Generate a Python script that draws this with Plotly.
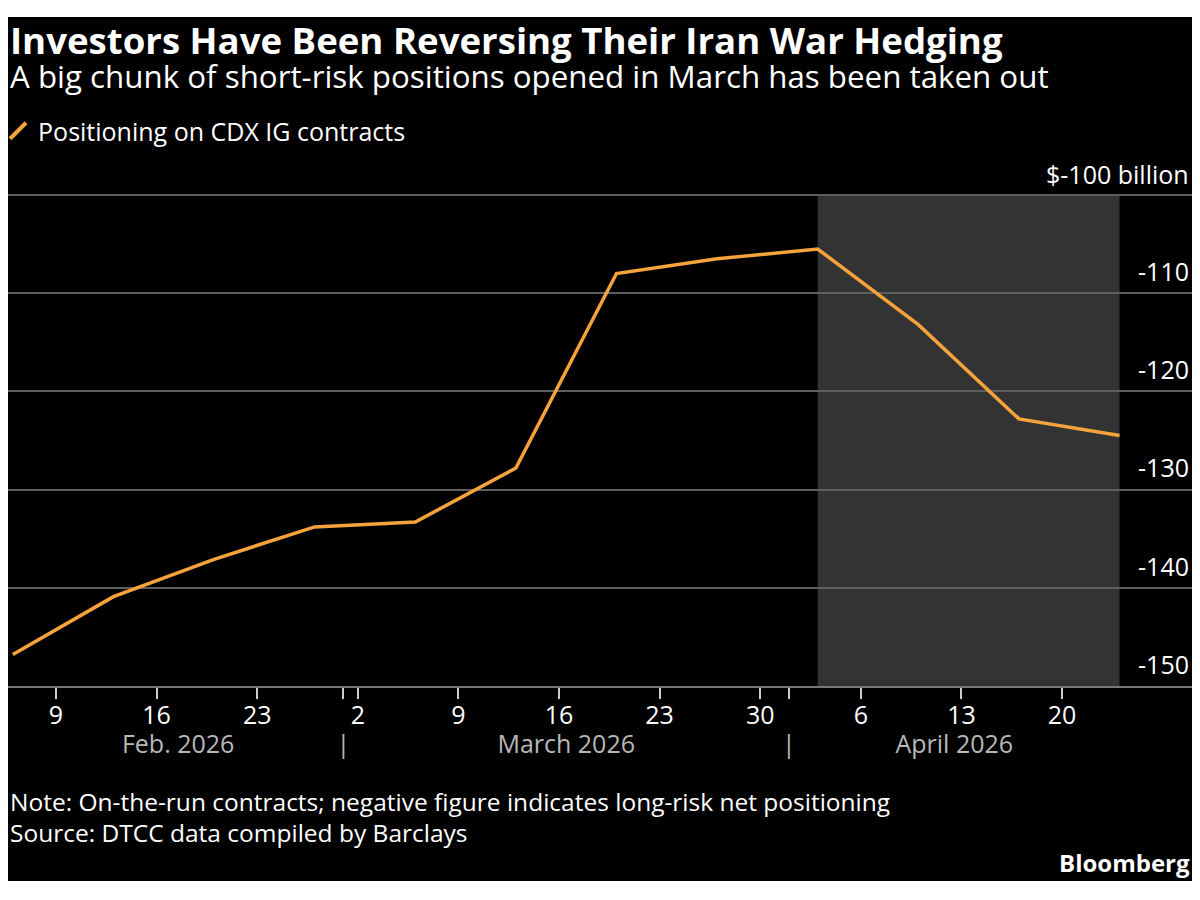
import plotly.graph_objects as go

# weekly positioning on CDX IG contracts, $ billion
dates = ["2026-02-06", "2026-02-13", "2026-02-20", "2026-02-27", "2026-03-06", "2026-03-13",
         "2026-03-20", "2026-03-27", "2026-04-03", "2026-04-10", "2026-04-17", "2026-04-24"]
positioning = [-146.8, -140.9, -137.1, -133.8, -133.3, -127.8,
               -108.0, -106.5, -105.5, -113.2, -122.8, -124.5]

# shaded window (April unwind)
shade_start = "2026-04-03"
shade_end = "2026-04-24"

day_ticks = ["2026-02-09", "2026-02-16", "2026-02-23", "2026-03-02", "2026-03-09", "2026-03-16",
             "2026-03-23", "2026-03-30", "2026-04-06", "2026-04-13", "2026-04-20"]
day_labels = ["9", "16", "23", "2", "9", "16", "23", "30", "6", "13", "20"]
month_bounds = ["2026-03-01", "2026-04-01"]
month_ticks = ["2026-02-17 12:00", "2026-03-01", "2026-03-16 12:00", "2026-04-01", "2026-04-12 12:00"]
month_labels = ["Feb. 2026", "|", "March 2026", "|", "April 2026"]

y_ticks = [-150, -140, -130, -120, -110, -100]
y_labels = ["-150", "-140", "-130", "-120", "-110", ""]
y_top_label = "$-100 billion"

x_range = ["2026-02-05 15:53", "2026-04-29 01:00"]

ORANGE = "#f7a33c"
FONT = "Open Sans"

# figure geometry in pixels (the page adds an 8px body margin around it)
W, H = 1184, 884
ML, MR, MT, MB = 0, 0, 142, 206
plot_h = H - MT - MB
PX_PER_UNIT = 9.82


def py(p):
    # figure pixel row -> paper y
    return (H - MB - p) / plot_h


fig = go.Figure()

fig.add_trace(go.Scatter(x=dates, y=positioning, mode="lines",
                         line=dict(color=ORANGE, width=3.5),
                         showlegend=False, name="Positioning on CDX IG contracts"))
# legend entry with the slanted swatch
fig.add_trace(go.Scatter(x=[None], y=[None], mode="markers",
                         marker=dict(symbol="line-ne", size=16, line=dict(color=ORANGE, width=4)),
                         name="Positioning on CDX IG contracts"))

fig.add_shape(type="rect", xref="x", yref="y", x0=shade_start, x1=shade_end,
              y0=-150, y1=-100, fillcolor="#333333", line_width=0, layer="below")

# white strips top and bottom of the image
fig.add_shape(type="rect", xref="paper", yref="paper", x0=-0.02, x1=1.02,
              y0=py(9), y1=py(-5), fillcolor="white", line_width=0)
fig.add_shape(type="rect", xref="paper", yref="paper", x0=-0.02, x1=1.02,
              y0=py(890), y1=py(873), fillcolor="white", line_width=0)

# unit label sitting above the top gridline
fig.add_annotation(text=y_top_label, xref="paper", yref="y", x=1.0, y=y_ticks[-1],
                   xanchor="right", yanchor="middle", yshift=21, xshift=-1,
                   showarrow=False, font=dict(size=25, color="white", family=FONT))

fig.add_annotation(text="<b>Investors Have Been Reversing Their Iran War Hedging</b>",
                   xref="paper", yref="paper", x=0, y=py(32), xanchor="left", yanchor="middle",
                   showarrow=False, font=dict(size=36.6, color="white", family=FONT))
fig.add_annotation(text="A big chunk of short-risk positions opened in March has been taken out",
                   xref="paper", yref="paper", x=0, y=py(68), xanchor="left", yanchor="middle",
                   showarrow=False, font=dict(size=31.3, color="white", family=FONT))
fig.add_annotation(text="Note: On-the-run contracts; negative figure indicates long-risk net positioning",
                   xref="paper", yref="paper", x=0, y=py(793), xanchor="left", yanchor="middle",
                   showarrow=False, font=dict(size=24.5, color="white", family=FONT))
fig.add_annotation(text="Source: DTCC data compiled by Barclays",
                   xref="paper", yref="paper", x=0, y=py(824), xanchor="left", yanchor="middle",
                   showarrow=False, font=dict(size=24.5, color="white", family=FONT))
fig.add_annotation(text="<b>Bloomberg</b>",
                   xref="paper", yref="paper", x=1.0, y=py(854), xanchor="right", yanchor="middle",
                   showarrow=False, font=dict(size=24, color="white", family=FONT))

fig.update_layout(
    width=W, height=H,
    margin=dict(l=ML, r=MR, t=MT, b=MB, autoexpand=False),
    paper_bgcolor="black",
    plot_bgcolor="black",
    font=dict(family=FONT, color="white", size=25),
    showlegend=True,
    legend=dict(x=-0.0084, y=py(123), xanchor="left", yanchor="middle",
                orientation="h", bgcolor="rgba(0,0,0,0)",
                font=dict(size=25, color="white", family=FONT), itemwidth=30),
    xaxis=dict(
        type="date",
        range=x_range,
        tickmode="array", tickvals=day_ticks, ticktext=day_labels,
        ticks="outside", ticklen=11, tickwidth=1.5, tickcolor="#cccccc",
        ticklabelstandoff=-5,
        minor=dict(tickmode="array", tickvals=month_bounds, ticks="outside",
                   ticklen=11, tickwidth=1.5, tickcolor="#cccccc", showgrid=False),
        showgrid=False, zeroline=False,
        showline=True, linecolor="#777777", linewidth=1.5,
        tickfont=dict(size=25, color="white"),
    ),
    xaxis2=dict(
        type="date", overlaying="x", side="bottom", anchor="y",
        range=x_range,
        tickmode="array", tickvals=month_ticks, ticktext=month_labels,
        ticks="", showgrid=False, zeroline=False, showline=False,
        ticklabelstandoff=41,
        tickfont=dict(size=25, color="#b8b8b8"),
    ),
    yaxis=dict(
        range=[-150, -150 + plot_h / PX_PER_UNIT],
        side="right",
        tickmode="array", tickvals=y_ticks, ticktext=y_labels,
        ticklabelposition="inside", ticklabelshift=-21, ticklabelstandoff=0,
        ticks="", showgrid=True, gridcolor="#5e5e5e", gridwidth=1.5,
        zeroline=False, showline=False,
        tickfont=dict(size=25, color="white"),
    ),
)

# dummy trace on xaxis2 so the month axis renders
fig.add_trace(go.Scatter(x=[dates[0]], y=[None], xaxis="x2", yaxis="y",
                         showlegend=False, hoverinfo="skip"))

fig.write_html("out.html")
